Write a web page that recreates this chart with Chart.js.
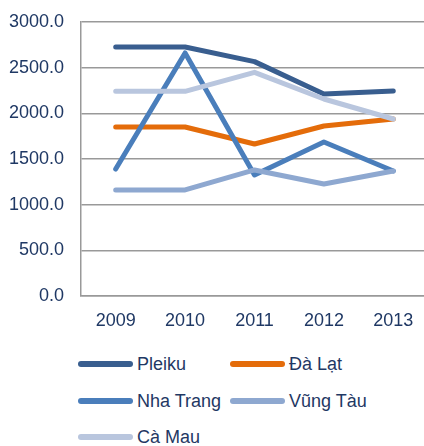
<!DOCTYPE html>
<html>
<head>
<meta charset="utf-8">
<script src="https://cdn.jsdelivr.net/npm/chart.js@4/dist/chart.umd.min.js"></script>
<style>
  html, body { margin: 0; padding: 0; background: #fff; overflow: hidden; width: 424px; height: 446px; }
  #wrap { position: absolute; left: 0; top: 0; width: 440px; height: 340px; }
  #legend { position: absolute; left: 0; top: 340px; width: 424px; font-family: "Liberation Sans", Arial, sans-serif; font-size: 18px; color: #1F3864; }
  .item { position: absolute; display: flex; align-items: center; height: 20px; white-space: nowrap; }
  .sw { width: 55px; height: 6px; border-radius: 3px; margin-right: 4px; }
</style>
</head>
<body>
<div id="wrap"><canvas id="chart" width="440" height="340"></canvas></div>
<div id="legend"></div>
<script>
const years = ['2009', '2010', '2011', '2012', '2013'];
const seriesNames = ['Pleiku', 'Đà Lạt', 'Nha Trang', 'Vũng Tàu', 'Cà Mau'];
const pleiku = [2726, 2726, 2566, 2212, 2245];
const daLat = [1850, 1850, 1664, 1861, 1938];
const nhaTrang = [1390, 2661, 1325, 1686, 1369];
const vungTau = [1161, 1161, 1380, 1227, 1369];
const caMau = [2241, 2241, 2449, 2157, 1938];
const colors = ['#395E8F', '#E46C0A', '#4A7EBB', '#8EA8D0', '#B9C6DE'];
const yTicks = [0, 500, 1000, 1500, 2000, 2500, 3000];

const values = [pleiku, daLat, nhaTrang, vungTau, caMau];
// later series drawn on top, like the original
const order = [5, 4, 3, 2, 1];

const datasets = seriesNames.map((name, i) => ({
    label: name,
    data: values[i],
    borderColor: colors[i],
    backgroundColor: colors[i],
    borderWidth: 5,
    pointRadius: 0,
    tension: 0,
    borderCapStyle: 'round',
    borderJoinStyle: 'round',
    order: order[i]
}));

const font = { family: '"Liberation Sans", Arial, sans-serif', size: 18 };

new Chart(document.getElementById('chart'), {
    type: 'line',
    data: { labels: years, datasets: datasets },
    options: {
        responsive: false,
        animation: false,
        layout: { padding: { top: 22, right: 12, left: 0, bottom: 0 } },
        plugins: { legend: { display: false }, tooltip: { enabled: false } },
        scales: {
            x: {
                offset: true,
                grid: { display: false, drawTicks: false },
                border: { display: true, color: '#999999', width: 1.5 },
                ticks: { color: '#1F3864', font: font, padding: 14 },
                afterFit: s => { s.height = 44; s.paddingLeft = 0; s.paddingRight = 0; }
            },
            y: {
                min: 0,
                max: 3000,
                afterBuildTicks: s => { s.ticks = yTicks.map(v => ({ value: v })); },
                grid: { color: '#999999', lineWidth: 1.5, drawTicks: false },
                border: { display: true, color: '#999999', width: 1.5 },
                ticks: { color: '#1F3864', font: font, padding: 17, callback: v => v.toFixed(1) },
                afterFit: s => { s.width = 81; s.paddingTop = 0; s.paddingBottom = 0; }
            }
        }
    }
});

// legend, two columns
const legend = document.getElementById('legend');
const colX = [78, 230];
const rowY = [14, 51, 87];
seriesNames.forEach((name, i) => {
    const el = document.createElement('div');
    el.className = 'item';
    el.style.left = colX[i % 2] + 'px';
    el.style.top = rowY[Math.floor(i / 2)] + 'px';
    el.innerHTML = '<span class="sw" style="background:' + colors[i] + '"></span><span>' + name + '</span>';
    legend.appendChild(el);
});
</script>
</body>
</html>
